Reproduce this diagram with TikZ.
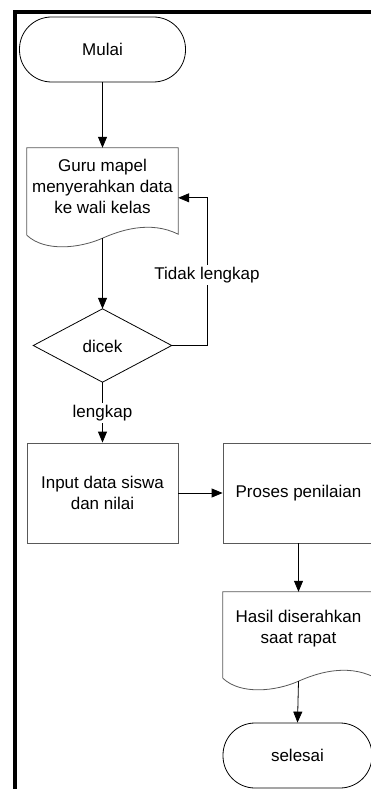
\documentclass[tikz,border=0pt]{standalone}
\usepackage{fontspec}
\setmainfont{Liberation Sans}
\usetikzlibrary{arrows.meta,calc}
\tikzset{
  txt/.style={align=center,font=\fontsize{17}{21}\selectfont,inner sep=0pt},
  lbl/.style={font=\fontsize{17}{21}\selectfont,fill=white,inner sep=2pt},
  term/.style={draw=black,line width=0.8pt,rounded corners=32pt,minimum height=65pt,inner sep=0pt,align=center,font=\fontsize{17}{21}\selectfont},
  procbox/.style={draw=black!65,line width=0.8pt,minimum width=151pt,minimum height=100pt,inner sep=0pt,align=center,font=\fontsize{17}{21}\selectfont},
  frame/.style={draw=none,inner sep=0pt},
  docline/.style={draw=black!65,line width=0.8pt},
  diamline/.style={draw=black,line width=0.8pt},
  arr/.style={draw=black,line width=0.8pt,-{Triangle[length=11pt,width=9pt]}},
  conn/.style={draw=black,line width=0.8pt},
}
\newcommand{\docpath}[1]{%
  \draw[docline] (#1.south west) -- (#1.north west) -- (#1.north east) -- ($(#1.south east)+(0,1)$)
    .. controls ($(#1.south east)+(-28,15)$) and ($(#1.south)+(17.5,4.8)$) .. ($(#1.south)+(0,-3)$)
    .. controls ($(#1.south)+(-22.5,-13)$) and ($(#1.south west)+(18,-17)$) .. (#1.south west);}
\begin{document}
\begin{tikzpicture}[x=1pt,y=1pt]
\useasboundingbox (0,0) rectangle (370,-789);
\fill[white] (0,0) rectangle (370,-789);
% outer border
\draw[line width=4pt] (372,-12) -- (15,-12) -- (15,-791);

% nodes
\node[term,minimum width=166pt] (mulai) at (102.5,-49.5) {Mulai};

\node[frame,minimum width=151pt,minimum height=87pt] (doc1) at (102.5,-191.5) {};
\docpath{doc1}
\node[txt] (doc1t) at (102.5,-186) {Guru mapel\\menyerahkan data\\ke wali kelas};
\coordinate (d1b) at ($(doc1.south)+(0,-3)$);

\node[frame,minimum width=138pt,minimum height=73pt] (cek) at (102.5,-345.5) {};
\draw[diamline] (cek.north) -- (cek.east) -- (cek.south) -- (cek.west) -- cycle;
\node[txt] (cekt) at (102.5,-346) {dicek};

\node[procbox] (input) at (102.5,-493) {Input data siswa\\dan nilai};
\node[procbox] (proses) at (298.5,-493) {Proses penilaian};

\node[frame,minimum width=151pt,minimum height=86pt] (doc2) at (298.5,-635) {};
\docpath{doc2}
\node[txt] (doc2t) at (298.5,-629) {Hasil diserahkan\\saat rapat};
\coordinate (d2b) at ($(doc2.south)+(0,-3)$);

\node[term,minimum width=149pt] (selesai) at (297.5,-755.5) {selesai};

% connectors
\draw[arr] (mulai.south) -- (doc1.north);
\draw[arr] (d1b) -- (cek.north);
\coordinate (loopc) at ($(cek.east)+(36,0)$);
\coordinate (loopin) at ($(doc1.north east)+(0,-50)$);
\draw[arr] (cek.east) -- (loopc) |- (loopin);
\node[lbl] (tl) at (207,-275) {Tidak lengkap};
\draw[arr] (cek.south) -- (input.north);
\node[lbl] (lk) at (102.5,-413) {lengkap};
\draw[arr] (input.east) -- (proses.west);
\draw[arr] (proses.south) -- (doc2.north);
\draw[arr] (d2b) -- (selesai.north);
\end{tikzpicture}
\end{document}
